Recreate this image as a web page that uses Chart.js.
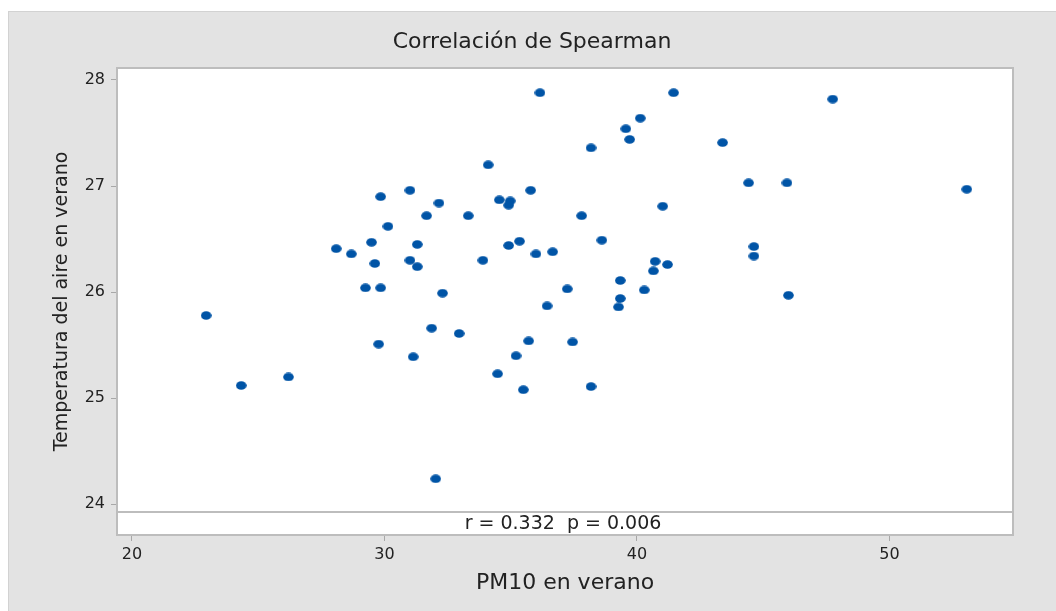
<!DOCTYPE html>
<html>
<head>
<meta charset="utf-8">
<script src="https://cdn.jsdelivr.net/npm/chart.js@4"></script>
<style>
  html, body { margin: 0; padding: 0; background: #ffffff; }
  #wrap { width: 1056px; height: 611px; position: relative; }
</style>
</head>
<body>
<div id="wrap"><canvas id="c" width="1056" height="611"></canvas></div>
<script>
const chartTitle = "Correlación de Spearman";
const xTitle = "PM10 en verano";
const yTitle = "Temperatura del aire en verano";
const statsText = "r = 0.332  p = 0.006";
const xTicks = [20, 30, 40, 50];
const yTicks = [24, 25, 26, 27, 28];

const pm10 = [
  22.94, 24.33, 26.20, 28.09, 28.69, 29.49, 29.85, 29.62, 29.25, 29.85,
  29.77, 30.14, 31.01, 31.67, 31.30, 31.01, 31.30, 31.14, 31.87, 32.03,
  32.16, 32.30, 32.96, 33.32, 33.90, 34.11, 34.48, 34.55, 34.98, 34.92,
  34.92, 35.35, 35.21, 35.50, 35.71, 35.79, 36.00, 36.16, 36.44, 36.66,
  37.24, 37.45, 37.81, 38.18, 38.18, 38.61, 39.27, 39.34, 39.34, 39.56,
  39.71, 40.13, 40.29, 40.65, 40.72, 41.02, 41.21, 41.45, 43.39, 44.42,
  44.63, 44.63, 45.94, 46.00, 47.75, 53.06
];
const temperatura = [
  25.78, 25.12, 25.20, 26.41, 26.36, 26.47, 26.90, 26.27, 26.04, 26.04,
  25.51, 26.62, 26.96, 26.72, 26.45, 26.30, 26.24, 25.39, 25.66, 24.24,
  26.84, 25.99, 25.61, 26.72, 26.30, 27.20, 25.23, 26.87, 26.86, 26.82,
  26.44, 26.48, 25.40, 25.08, 25.54, 26.96, 26.36, 27.88, 25.87, 26.38,
  26.03, 25.53, 26.72, 27.36, 25.11, 26.49, 25.86, 25.94, 26.11, 27.54,
  27.44, 27.64, 26.02, 26.20, 26.29, 26.81, 26.26, 27.88, 27.41, 27.03,
  26.43, 26.34, 27.03, 25.97, 27.82, 26.97
];

const FONT = "'DejaVu Sans', 'Open Sans', sans-serif";
const TEXT = '#222222';
const FRAME = '#bdbdbd';
const PANEL = '#e3e3e3';
const DOT = '#0054a6';

// slightly oval marker, as in the reference
const marker = document.createElement('canvas');
marker.width = 11; marker.height = 9;
(function () {
  const m = marker.getContext('2d');
  m.fillStyle = DOT;
  m.beginPath();
  m.ellipse(5.5, 4.5, 5.3, 4.3, 0, 0, Math.PI * 2);
  m.fill();
})();

const points = pm10.map((x, i) => ({ x: x, y: temperatura[i] }));

const decor = {
  id: 'decor',
  beforeDraw(chart) {
    const ctx = chart.ctx;
    const a = chart.chartArea;
    ctx.save();
    ctx.fillStyle = '#ffffff';
    ctx.fillRect(0, 0, chart.width, chart.height);
    ctx.fillStyle = PANEL;
    ctx.fillRect(8, 11, chart.width - 8, chart.height - 11);
    ctx.strokeStyle = '#d2d2d2';
    ctx.lineWidth = 1;
    ctx.strokeRect(8.5, 11.5, chart.width, chart.height);
    ctx.fillStyle = '#ffffff';
    ctx.fillRect(a.left, a.top, a.right - a.left, a.bottom - a.top);
    ctx.restore();
  },
  afterDraw(chart) {
    const ctx = chart.ctx;
    const a = chart.chartArea;
    const lineY = a.bottom - 23;
    ctx.save();
    ctx.strokeStyle = FRAME;
    ctx.lineWidth = 2;
    ctx.beginPath();
    ctx.moveTo(a.left, lineY);
    ctx.lineTo(a.right, lineY);
    ctx.stroke();
    ctx.strokeRect(a.left, a.top, a.right - a.left, a.bottom - a.top);
    ctx.fillStyle = TEXT;
    ctx.font = "19px " + FONT;
    ctx.textAlign = 'center';
    ctx.textBaseline = 'middle';
    ctx.fillText(statsText, (a.left + a.right) / 2 - 2, (lineY + a.bottom) / 2 + 1);
    ctx.restore();
  }
};

new Chart(document.getElementById('c'), {
  type: 'scatter',
  data: {
    datasets: [{
      data: points,
      backgroundColor: DOT,
      borderColor: DOT,
      borderWidth: 0,
      pointStyle: marker,
      pointRadius: 5,
      pointHoverRadius: 5
    }]
  },
  options: {
    responsive: false,
    animation: false,
    events: [],
    layout: { padding: { left: 51, right: 43, top: 0, bottom: 0 } },
    plugins: {
      legend: { display: false },
      tooltip: { enabled: false },
      title: {
        display: true,
        text: chartTitle,
        color: TEXT,
        font: { family: FONT, size: 22, weight: 'normal' },
        padding: { top: 29, bottom: 12.6 }
      }
    },
    scales: {
      x: {
        type: 'linear',
        min: 19.41,
        max: 54.89,
        afterBuildTicks: axis => { axis.ticks = xTicks.map(v => ({ value: v })); },
        afterFit: axis => { axis.height = 76; },
        grid: { display: true, drawOnChartArea: false, drawTicks: true, tickLength: 6, color: '#a8a8a8', lineWidth: 1 },
        border: { display: false },
        ticks: { color: TEXT, padding: 4, font: { family: FONT, size: 16 } },
        title: {
          display: true,
          text: xTitle,
          color: TEXT,
          font: { family: FONT, size: 22 },
          padding: { top: 0, bottom: 14.8 }
        }
      },
      y: {
        type: 'linear',
        min: 23.71,
        max: 28.113,
        afterBuildTicks: axis => { axis.ticks = yTicks.map(v => ({ value: v })); },
        afterFit: axis => { axis.width = 66; },
        grid: { display: true, drawOnChartArea: false, drawTicks: true, tickLength: 6, color: '#a8a8a8', lineWidth: 1 },
        border: { display: false },
        ticks: { color: TEXT, padding: 6, font: { family: FONT, size: 16 } },
        title: {
          display: true,
          text: yTitle,
          color: TEXT,
          font: { family: FONT, size: 19 },
          padding: { top: 0, bottom: 0 }
        }
      }
    }
  },
  plugins: [decor]
});
</script>
</body>
</html>
